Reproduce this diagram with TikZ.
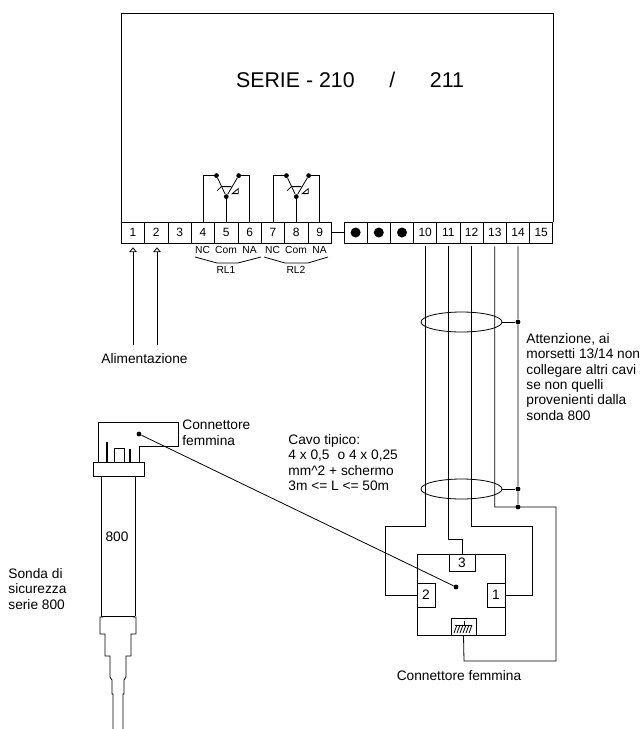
\documentclass[tikz,border=0pt]{standalone}
\usepackage{fontspec}
\setmainfont{Liberation Sans}
\usetikzlibrary{arrows.meta,shapes.geometric}
\tikzset{
  every node/.style={font=\fontsize{10.3}{11.5}\selectfont},
  termbox/.style={draw,inner sep=0pt,minimum width=17.45pt,minimum height=15.75pt,font=\fontsize{9}{11}\selectfont},
  pinbox/.style={draw,fill=white,inner sep=0pt},
  dot/.style={circle,fill=black,inner sep=0pt,minimum size=3.6pt},
  bigdot/.style={circle,fill=black,inner sep=0pt,minimum size=7.5pt},
  shield/.style={draw,ellipse,inner sep=0pt,minimum width=60.75pt,minimum height=15pt},
  small/.style={font=\fontsize{7.7}{9}\selectfont,inner sep=0pt},
  note/.style={align=left,anchor=north west,inner sep=0pt}
}
\begin{document}
\begin{tikzpicture}[x=0.75pt,y=-0.75pt,line width=0.6pt]
\useasboundingbox (0,0) rectangle (643,729);
\node[font=\fontsize{16}{18}\selectfont] (title) at (350,80) {SERIE - 210\hspace{26pt}/\hspace{26pt}211};
\draw (121,222) -- (121,13) -- (553,13) -- (553,222);
\foreach \n in {1,...,9}
  \node[termbox] (t\n) at (109.67+23.33*\n,232.5) {\n};
\foreach \n in {1,2,3}
  \node[termbox] (s\n) at (332.4+23.2*\n,232.5) {};
\foreach \n in {1,2,3}
  \node[bigdot] (b\n) at (s\n) {};
\foreach \n in {10,...,15}
  \node[termbox] (t\n) at (425.2+23.2*\n-232,232.5) {\n};
\draw (t9) -- (s1);
\foreach \a/\b/\c in {4/5/6,7/8/9} {
  \node[dot] (l\a) at ([xshift=10.1pt,yshift=34.5pt]t\a.north) {};
  \node[dot] (r\a) at ([xshift=-8.25pt,yshift=34.5pt]t\c.north) {};
  \node[dot] (m\a) at ([yshift=18.75pt]t\b.north) {};
  \draw (t\a.north) |- (l\a);
  \draw (t\c.north) |- (r\a);
  \draw (t\b.north) -- (m\a);
  \draw (l\a) -- (m\a) -- (r\a);
  \begin{scope}[shift={(m\a)}]
    \draw (-9,-6) -- (-5,-10) -- (5,-10);
    \draw (6,-3) -- (12,-8) -- (12,-3) -- cycle;
  \end{scope}
}
\foreach \n/\x/\t in {a/202.5/NC,b/226/Com,c/249.5/NA,d/272.5/NC,e/296/Com,f/319.5/NA}
  \node[small] (lab\n) at (\x,250) {\t};
\node[small] (rl1) at (226,269.5) {RL1};
\node[small] (rl2) at (296,270) {RL2};
\draw (195,257) -- (217,263) -- (238,263) -- (261,257);
\draw (264,257) -- (285,263) -- (308,263) -- (328,257);
\coordinate (f1) at (133,345);
\coordinate (f2) at (157,345);
\draw[-{Triangle[open,width=6pt,length=3.6pt]}] (f1) -- ([yshift=-3pt]t1.south -| f1);
\draw[-{Triangle[open,width=6pt,length=3.6pt]}] (f2) -- ([yshift=-3pt]t2.south -| f2);
\node (alim) at (144.5,359) {Alimentazione};
\node[shield] (e1) at (461.5,322) {};
\node[shield] (e2) at (461.5,489) {};
\node[dot] (j1) at (518,322) {};
\node[dot] (j2) at (518,489) {};
\node[dot] (j3) at (518,507) {};
\draw (e1) -- (j1);
\draw (e2) -- (j2);
\foreach \n in {10,...,14}
  \coordinate (w\n) at ([yshift=-2.25pt]t\n.south);
\draw (417,554) rectangle (505,635);
\node[pinbox,minimum width=19.5pt,minimum height=12.75pt] (p3) at (462,562.5) {3};
\node[pinbox,minimum width=13.5pt,minimum height=18pt] (p2) at (426,595) {2};
\node[pinbox,minimum width=13.5pt,minimum height=18pt] (p1) at (496,595) {1};
\node[pinbox,minimum width=18.75pt,minimum height=12.75pt] (pg) at (463.5,626.5) {};
\draw (455,625) -- (472,625);
\draw (464,621) -- (464,625);
\foreach \x in {457,460,...,472}
  \draw (\x,625) -- (\x-3,633);
\draw (w10) |- (385,526) |- (p2.west);
\draw (w11) |- (462,539) -- (p3.north);
\draw (w12) |- (532,526) |- (p1.east);
\draw (w13) |- (556,507) |- (464,661) -- (pg.south);
\draw (w14) -- (j1) -- (j2) -- (j3);
\node[dot] (cs) at (456,587) {};
\node[dot] (cp) at (139,434) {};
\draw (cp) -- (cs);
\draw (139,462) -- (139,446) -- (178,446) -- (178,422) -- (98,422) -- (98,462);
\node[draw,inner sep=0pt,minimum width=38.25pt,minimum height=10.5pt] (flange) at (118.5,469) {};
\draw[line width=0.9pt] (107,442) -- (107,462);
\draw (114,462) -- (114,448) -- (124,448) -- (124,462);
\draw[line width=0.9pt] (130,449) -- (130,462);
\draw (101,476) -- (101,616);
\draw (135,476) -- (135,616);
\draw (101,616) -- (135,616);
\node (num) at (117,537) {800};
\draw (103,616) -- (103,617) -- (100,617) -- (100,634) -- (105,634) -- (105,656) -- (110,656) -- (110,677) -- (112,680) -- (112,694) -- (113,694) -- (113,729);
\draw (133,616) -- (133,617) -- (136,617) -- (136,634) -- (131,634) -- (131,656) -- (126,656) -- (126,677) -- (124,680) -- (124,694) -- (123,694) -- (123,729);
\node[note] (conn1) at (182,420) {Connettore\\femmina};
\node[note] (cavo) at (288,434) {Cavo tipico:\\4 x 0,5\hspace{0.3em} o 4 x 0,25\\mm\textasciicircum 2 + schermo\\3m <= L <= 50m};
\node[note] (att) at (526,333) {Attenzione, ai\\morsetti 13/14 non\\collegare altri cavi\\se non quelli\\provenienti dalla\\sonda 800};
\node[note] (sonda) at (8,568) {Sonda di\\sicurezza\\serie 800};
\node (conn2) at (459,676) {Connettore femmina};
\end{tikzpicture}
\end{document}
